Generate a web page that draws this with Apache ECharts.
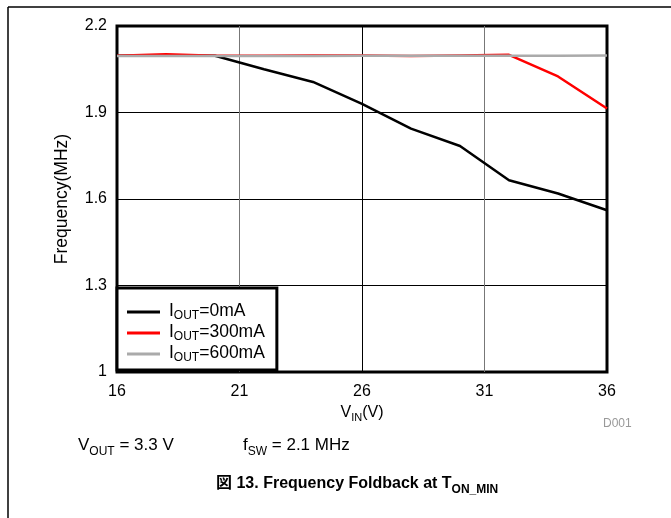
<!DOCTYPE html>
<html>
<head>
<meta charset="utf-8">
<script src="https://cdn.jsdelivr.net/npm/echarts@6/dist/echarts.min.js"></script>
<style>
    html, body { margin: 0; padding: 0; background: #fff; }
    #chart { width: 671px; height: 518px; }
</style>
</head>
<body>
<div id="chart"></div>
<script>
// input voltage (V)
var vin = [16, 18, 20, 22, 24, 26, 28, 30, 32, 34, 36];
// switching frequency (MHz)
var iout0 = [2.097, 2.098, 2.097, 2.05, 2.006, 1.93, 1.844, 1.784, 1.665, 1.619, 1.561];
var iout300 = [2.097, 2.102, 2.097, 2.097, 2.098, 2.098, 2.096, 2.098, 2.100, 2.025, 1.914];
var iout600 = [2.096, 2.096, 2.096, 2.096, 2.096, 2.097, 2.097, 2.097, 2.097, 2.097, 2.098];
var seriesNames = ['IOUT=0mA', 'IOUT=300mA', 'IOUT=600mA'];
var legendLabels = {
    'IOUT=0mA': '{m|I}{s|OUT}{m|=0mA}',
    'IOUT=300mA': '{m|I}{s|OUT}{m|=300mA}',
    'IOUT=600mA': '{m|I}{s|OUT}{m|=600mA}'
};

function pairs(xs, ys) {
    return xs.map(function (x, i) { return [x, ys[i]]; });
}

var font = '"Liberation Sans", Arial, sans-serif';
var axisRich = {
    m: { fontSize: 16, fontFamily: font, color: '#000', lineHeight: 20, verticalAlign: 'top' },
    s: { fontSize: 11, fontFamily: font, color: '#000', lineHeight: 12, padding: [8, 0, 0, 0], verticalAlign: 'top' }
};
var legendRich = {
    m: { fontSize: 17.5, fontFamily: font, color: '#000', lineHeight: 20, verticalAlign: 'top' },
    s: { fontSize: 12, fontFamily: font, color: '#000', lineHeight: 12, padding: [8, 0, 0, 0], verticalAlign: 'top' }
};

var chart = echarts.init(document.getElementById('chart'));

var option = {
    animation: false,
    backgroundColor: '#fff',
    color: ['#000000', '#ff0000', '#aaaaaa'],
    grid: {
        left: 117,
        top: 26,
        right: 64,
        bottom: 146,
        show: true,
        borderColor: '#000',
        borderWidth: 3,
        backgroundColor: '#fff'
    },
    xAxis: {
        type: 'value',
        min: 16,
        max: 36,
        interval: 5,
        name: '{m|V}{s|IN}{m|(V)}',
        nameLocation: 'middle',
        nameGap: 26,
        nameTextStyle: { rich: axisRich },
        axisLine: { show: false },
        axisTick: { show: false },
        axisLabel: { fontSize: 16, fontFamily: font, color: '#000', margin: 12 },
        splitLine: {
            show: true,
            lineStyle: { color: ['#000', '#777', '#000', '#777', '#000'], width: 1 }
        }
    },
    yAxis: {
        type: 'value',
        min: 1,
        max: 2.2,
        interval: 0.3,
        name: 'Frequency(MHz)',
        nameLocation: 'middle',
        nameGap: 46,
        nameRotate: 90,
        nameTextStyle: { fontSize: 17.5, fontFamily: font, color: '#000' },
        axisLine: { show: false },
        axisTick: { show: false },
        axisLabel: {
            fontSize: 16,
            fontFamily: font,
            color: '#000',
            margin: 10,
            formatter: function (v) { return Math.abs(v - 1) < 1e-6 ? '1' : v.toFixed(1); }
        },
        splitLine: { show: true, lineStyle: { color: '#000', width: 1 } }
    },
    legend: {
        orient: 'vertical',
        left: 117,
        top: 288,
        backgroundColor: '#fff',
        borderColor: '#000',
        borderWidth: 3,
        padding: [14, 12, 6, 10],
        itemGap: 1,
        itemWidth: 33,
        itemHeight: 3,
        icon: 'rect',
        data: seriesNames,
        formatter: function (name) { return legendLabels[name]; },
        textStyle: { rich: legendRich, padding: [0, 0, 0, 4] }
    },
    series: [
        { name: seriesNames[0], type: 'line', data: pairs(vin, iout0), symbol: 'none', lineStyle: { width: 2.5, color: '#000' } },
        { name: seriesNames[1], type: 'line', data: pairs(vin, iout300), symbol: 'none', lineStyle: { width: 2.5, color: '#ff0000' } },
        { name: seriesNames[2], type: 'line', data: pairs(vin, iout600), symbol: 'none', lineStyle: { width: 2.5, color: '#aaaaaa' } }
    ],
    graphic: [
        { type: 'line', shape: { x1: 8, y1: 7, x2: 671, y2: 7 }, style: { stroke: '#000', lineWidth: 1.5 } },
        { type: 'line', shape: { x1: 8, y1: 7, x2: 8, y2: 518 }, style: { stroke: '#000', lineWidth: 1.5 } },
        {
            type: 'text', left: 603, top: 418,
            style: { text: 'D001', fontSize: 12, fontFamily: font, fill: '#999' }
        },
        {
            type: 'text', left: 78, top: 437,
            style: {
                text: '{m|V}{s|OUT}{m| = 3.3 V}',
                rich: {
                    m: { fontSize: 17, fontFamily: font, color: '#000', lineHeight: 22, verticalAlign: 'top' },
                    s: { fontSize: 12, fontFamily: font, color: '#000', lineHeight: 12, padding: [9, 0, 0, 0], verticalAlign: 'top' }
                }
            }
        },
        {
            type: 'text', left: 243, top: 437,
            style: {
                text: '{m|f}{s|SW}{m| = 2.1 MHz}',
                rich: {
                    m: { fontSize: 17, fontFamily: font, color: '#000', lineHeight: 22, verticalAlign: 'top' },
                    s: { fontSize: 12, fontFamily: font, color: '#000', lineHeight: 12, padding: [9, 0, 0, 0], verticalAlign: 'top' }
                }
            }
        },
        {
            type: 'text', left: 216, top: 476,
            style: {
                text: '{m|図 13. Frequency Foldback at T}{s|ON_MIN}',
                rich: {
                    m: { fontSize: 16, fontWeight: 'bold', fontFamily: '"Liberation Sans", "Noto Sans CJK JP", sans-serif', color: '#000', lineHeight: 20, verticalAlign: 'top' },
                    s: { fontSize: 12, fontWeight: 'bold', fontFamily: font, color: '#000', lineHeight: 12, padding: [8, 0, 0, 0], verticalAlign: 'top' }
                }
            }
        }
    ]
};

chart.setOption(option);
</script>
</body>
</html>
